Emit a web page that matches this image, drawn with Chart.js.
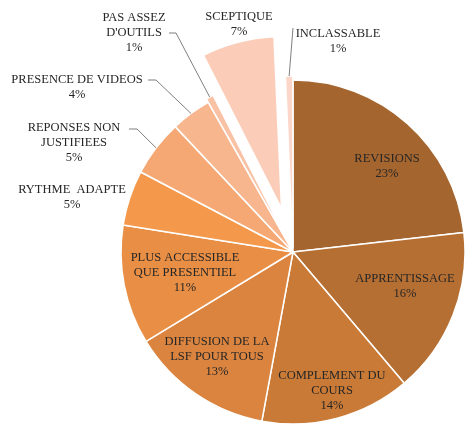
<!DOCTYPE html>
<html>
<head>
<meta charset="utf-8">
<script src="https://cdn.jsdelivr.net/npm/chart.js@4/dist/chart.umd.min.js"></script>
<style>
  html, body { margin: 0; padding: 0; background: #ffffff; }
  canvas { display: block; }
</style>
</head>
<body>
<canvas id="c" width="465" height="426"></canvas>
<script>
// ---- data ----
const categories = [
  'REVISIONS', 'APPRENTISSAGE', 'COMPLEMENT DU COURS', 'DIFFUSION DE LA LSF POUR TOUS',
  'PLUS ACCESSIBLE QUE PRESENTIEL', 'RYTHME  ADAPTE', 'REPONSES NON JUSTIFIEES',
  'PRESENCE DE VIDEOS', "PAS ASSEZ D'OUTILS", 'SCEPTIQUE', 'INCLASSABLE'
];
const shares = [23.2, 15.6, 14.1, 13.4, 11.2, 5.2, 5.3, 3.8, 0.7, 6.8, 0.7];

// ---- styles / layout ----
const colors = [
  '#A5652F', '#B66F33', '#C97A37', '#DA843F', '#E88E45', '#F4994C',
  '#F5A873', '#F7B68D', '#F9C2A4', '#FBCDB8', '#FCD7C9'
];
const explode = [0, 0, 0, 0, 0, 0, 0, 0, 4, 45, 4];
// label block centre, wrap width, optional leader line points (label side)
const labelLayout = [
  { x: 387, y: 166, w: 120 },
  { x: 405, y: 286, w: 120 },
  { x: 332, y: 391, w: 116 },
  { x: 217, y: 357, w: 116 },
  { x: 185, y: 273, w: 120 },
  { x: 72,  y: 197, w: 130 },
  { x: 74,  y: 143, w: 100, line: [[129, 129], [137, 129]] },
  { x: 77,  y: 87,  w: 150, line: [[148, 80], [156, 80]] },
  { x: 134, y: 33,  w: 70,  line: [[169, 33], [176, 33]] },
  { x: 239, y: 24,  w: 100 },
  { x: 338, y: 41,  w: 100, line: [[293, 28]] }
];
const FONT = '12.5px "Liberation Serif", "Times New Roman", serif';
const LINE_H = 15;

const explodePlugin = {
  id: 'explode',
  afterDatasetUpdate(chart) {
    const meta = chart.getDatasetMeta(0);
    meta.data.forEach((arc, i) => {
      const d = explode[i];
      if (d) {
        const a = (arc.startAngle + arc.endAngle) / 2;
        arc.x += Math.cos(a) * d;
        arc.y += Math.sin(a) * d;
      }
    });
  }
};

function wrap(ctx, text, maxW) {
  const words = text.split(' ');
  const lines = [];
  let cur = null;
  words.forEach(w => {
    if (cur === null) { cur = w; return; }
    const t = cur + ' ' + w;
    if (w !== '' && ctx.measureText(t).width > maxW) { lines.push(cur); cur = w; }
    else cur = t;
  });
  if (cur !== null) lines.push(cur);
  return lines;
}

const labelPlugin = {
  id: 'pieLabels',
  afterDatasetsDraw(chart) {
    const ctx = chart.ctx;
    const meta = chart.getDatasetMeta(0);
    const data = chart.data.datasets[0].data;
    const total = data.reduce((a, b) => a + b, 0);
    ctx.save();
    ctx.font = FONT;
    // leader lines
    ctx.strokeStyle = '#7F7F7F';
    ctx.lineWidth = 1;
    meta.data.forEach((arc, i) => {
      const L = labelLayout[i];
      if (!L.line) return;
      const a = (arc.startAngle + arc.endAngle) / 2;
      const ex = arc.x + Math.cos(a) * arc.outerRadius;
      const ey = arc.y + Math.sin(a) * arc.outerRadius;
      ctx.beginPath();
      ctx.moveTo(L.line[0][0], L.line[0][1]);
      for (let k = 1; k < L.line.length; k++) ctx.lineTo(L.line[k][0], L.line[k][1]);
      ctx.lineTo(ex, ey);
      ctx.stroke();
    });
    // texts
    ctx.fillStyle = '#262626';
    ctx.textAlign = 'center';
    ctx.textBaseline = 'middle';
    meta.data.forEach((arc, i) => {
      const L = labelLayout[i];
      const lines = wrap(ctx, chart.data.labels[i], L.w);
      lines.push(Math.round(data[i] / total * 100) + '%');
      const top = L.y - (lines.length - 1) * LINE_H / 2;
      lines.forEach((t, k) => ctx.fillText(t, L.x, top + k * LINE_H));
    });
    ctx.restore();
  }
};

new Chart(document.getElementById('c'), {
  type: 'pie',
  data: {
    labels: categories,
    datasets: [{
      data: shares,
      backgroundColor: colors,
      borderColor: '#FFFFFF',
      borderWidth: 1.5
    }]
  },
  options: {
    responsive: false,
    animation: false,
    radius: 172,
    layout: { padding: { left: 121, right: 0, top: 78, bottom: 0 } },
    plugins: {
      legend: { display: false },
      tooltip: { enabled: false }
    }
  },
  plugins: [explodePlugin, labelPlugin]
});
</script>
</body>
</html>
